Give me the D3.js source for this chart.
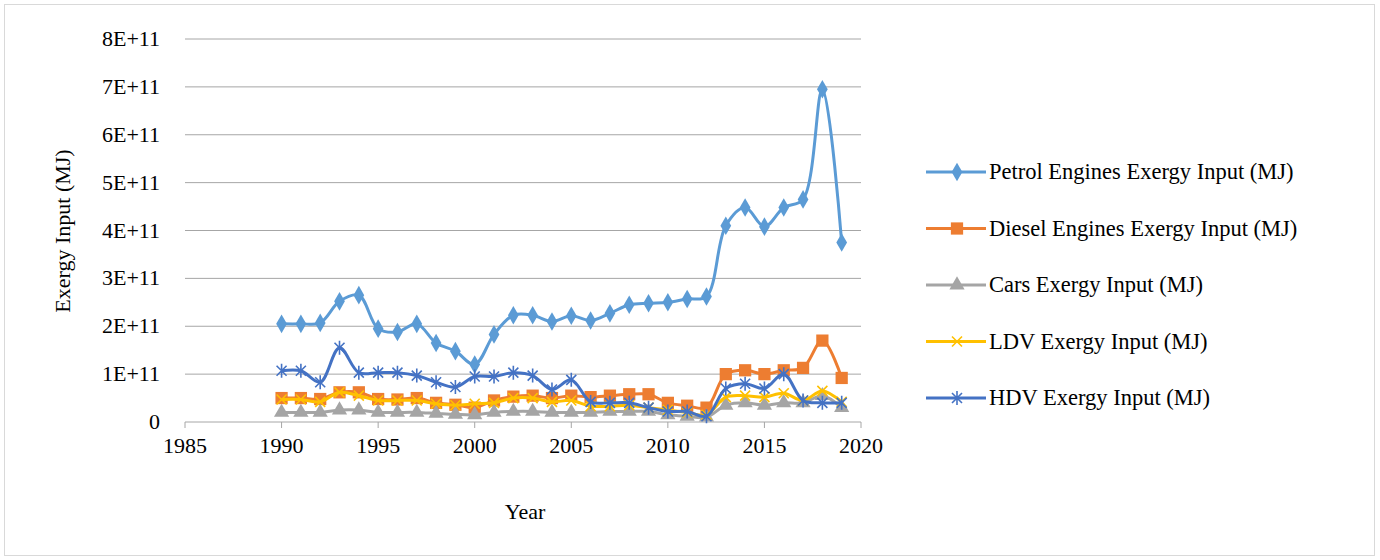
<!DOCTYPE html>
<html><head><meta charset="utf-8">
<script src="https://cdn.jsdelivr.net/npm/d3@7"></script>
<style>body{margin:0;background:#fff}text{font-family:"Liberation Serif","DejaVu Serif",serif;fill:#000}</style>
</head><body><svg id="c" width="1380" height="560"></svg>
<script>
var years = d3.range(1990, 2020);
var petrol = [2.05,2.05,2.07,2.52,2.65,1.95,1.88,2.05,1.65,1.48,1.2,1.83,2.23,2.23,2.1,2.22,2.12,2.27,2.45,2.48,2.5,2.57,2.62,4.1,4.48,4.08,4.48,4.65,6.95,3.75];
var diesel = [0.5,0.5,0.48,0.62,0.62,0.48,0.47,0.5,0.4,0.36,0.3,0.45,0.53,0.55,0.5,0.55,0.52,0.55,0.58,0.58,0.4,0.34,0.3,1.0,1.08,1.0,1.08,1.13,1.7,0.92];
var cars = [0.2,0.2,0.2,0.25,0.25,0.2,0.2,0.2,0.18,0.16,0.15,0.2,0.22,0.22,0.2,0.2,0.2,0.22,0.22,0.22,0.15,0.12,0.1,0.35,0.4,0.35,0.4,0.4,0.55,0.3];
var ldv = [0.47,0.47,0.42,0.62,0.55,0.45,0.45,0.45,0.38,0.35,0.38,0.4,0.5,0.5,0.42,0.45,0.33,0.33,0.35,0.3,0.25,0.2,0.15,0.52,0.55,0.52,0.6,0.45,0.65,0.42];
var hdv = [1.07,1.07,0.83,1.55,1.03,1.03,1.03,0.97,0.83,0.73,0.95,0.95,1.03,0.97,0.68,0.88,0.42,0.4,0.4,0.3,0.22,0.22,0.12,0.7,0.8,0.7,1.0,0.45,0.4,0.4];
var xTicks = [1985,1990,1995,2000,2005,2010,2015,2020];
var yTicks = [0,1,2,3,4,5,6,7,8];
var yLabels = ["0","1E+11","2E+11","3E+11","4E+11","5E+11","6E+11","7E+11","8E+11"];
var series = [
  {name:"Petrol Engines Exergy Input (MJ)", values:petrol, color:"#5B9BD5", sym:"diamond"},
  {name:"Diesel Engines Exergy Input (MJ)", values:diesel, color:"#ED7D31", sym:"square"},
  {name:"Cars Exergy Input (MJ)", values:cars, color:"#A5A5A5", sym:"triangle"},
  {name:"LDV Exergy Input (MJ)", values:ldv, color:"#FFC000", sym:"x"},
  {name:"HDV Exergy Input (MJ)", values:hdv, color:"#4472C4", sym:"star"}
];
var svg = d3.select("#c");
svg.append("rect").attr("x",4.5).attr("y",4.5).attr("width",1370).attr("height",551).attr("fill","none").attr("stroke","#d9d9d9");
var x = d3.scaleLinear().domain([1985,2020]).range([185,861]);
var y = d3.scaleLinear().domain([0,8]).range([422,39]);
var g = svg.append("g");
g.selectAll(".gl").data(yTicks).join("line").attr("x1",185).attr("x2",861)
  .attr("y1",d=>y(d)).attr("y2",d=>y(d)).attr("stroke","#a6a6a6").attr("stroke-width",1);
g.selectAll(".xt").data(xTicks).join("line").attr("x1",d=>x(d)).attr("x2",d=>x(d))
  .attr("y1",422).attr("y2",428).attr("stroke","#a6a6a6");
g.selectAll(".yl").data(yTicks).join("text").attr("x",160).attr("y",d=>y(d)+7).attr("text-anchor","end")
  .attr("font-size",22).text((d,i)=>yLabels[i]);
g.selectAll(".xl").data(xTicks).join("text").attr("x",d=>x(d)).attr("y",453).attr("text-anchor","middle")
  .attr("font-size",22).text(d=>d);
svg.append("text").attr("x",525).attr("y",519).attr("text-anchor","middle").attr("font-size",22).text("Year");
svg.append("text").attr("transform","translate(70,231) rotate(-90)").attr("text-anchor","middle").attr("font-size",22).text("Exergy Input (MJ)");

function marker(sel, s, size) {
  if (s.sym === "x" || s.sym === "star") {
    var p = "M-5,-5L5,5M-5,5L5,-5" + (s.sym === "star" ? "M0,-7L0,7" : "");
    sel.append("path").attr("d", p).attr("stroke", s.color).attr("stroke-width", 1.6).attr("fill","none");
  } else {
    var t = {diamond:d3.symbolDiamond, square:d3.symbolSquare, triangle:d3.symbolTriangle}[s.sym];
    sel.append("path").attr("d", d3.symbol().type(t).size(size)).attr("fill", s.color);
  }
}
var line = d3.line().x((d,i)=>x(years[i])).y(d=>y(d)).curve(d3.curveCatmullRom.alpha(0.5));
series.forEach(function(s){
  var sg = svg.append("g");
  sg.append("path").attr("d", line(s.values)).attr("fill","none").attr("stroke", s.color).attr("stroke-width",3);
  sg.selectAll("g").data(s.values).join("g").attr("transform",(d,i)=>"translate("+x(years[i])+","+y(d)+")")
    .each(function(){ marker(d3.select(this), s, s.sym==="square"?150:100); });
});
var lg = svg.selectAll(".lg").data(series).join("g").attr("transform",(d,i)=>"translate(957,"+(172+i*56.5)+")");
lg.append("line").attr("x1",-31).attr("x2",29).attr("stroke",d=>d.color).attr("stroke-width",3);
lg.each(function(s){ marker(d3.select(this).append("g"), s, s.sym==="square"?150:100); });
lg.append("text").attr("x",32).attr("y",7).attr("font-size",22.5).text(d=>d.name);
</script></body></html>
